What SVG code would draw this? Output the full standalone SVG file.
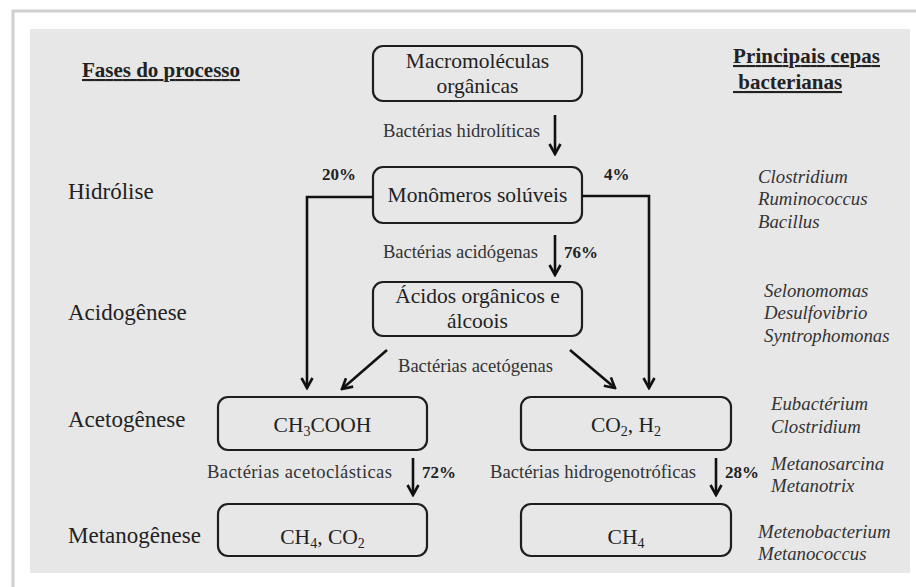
<svg xmlns="http://www.w3.org/2000/svg" width="916" height="587" viewBox="0 0 916 587">
<style>
  text{font-family:"Liberation Serif","Times New Roman",serif}
  .box{fill:#e7e7e7;stroke:#1e1e1e;stroke-width:2.2}
  .conn{fill:none;stroke:#111;stroke-width:2.6}
</style>
<defs>
  <marker id="ah" markerUnits="userSpaceOnUse" markerWidth="14" markerHeight="14" viewBox="0 0 14 14" refX="12" refY="7" orient="auto">
    <path d="M2,1.5 L12,7 L2,12.5" fill="none" stroke="#111" stroke-width="2.6"/>
  </marker>
</defs>
<rect x="0" y="0" width="916" height="587" fill="#fff"/>
<g id="frame">
  <path d="M13,587 L13,11 L916,11" fill="none" stroke="#d0d0d0" stroke-width="3"/>
  <rect x="30" y="29" width="880" height="544" fill="#e7e7e7"/>
</g>
<g id="headers" font-size="21" font-weight="bold" text-decoration="underline" fill="#222">
  <text x="82" y="77" textLength="158">Fases do processo</text>
  <text x="733" y="63" textLength="147">Principais cepas</text>
  <text x="733" y="89" xml:space="preserve"> bacterianas</text>
</g>
<g id="phases" font-size="23" fill="#222">
  <text x="68" y="199">Hidrólise</text>
  <text x="68" y="320">Acidogênese</text>
  <text x="68" y="427">Acetogênese</text>
  <text x="68" y="543">Metanogênese</text>
</g>
<g id="n-macro" font-size="21.5" text-anchor="middle" fill="#222">
  <rect class="box" x="373" y="46" width="209" height="55" rx="10"/>
  <text x="477.5" y="68">Macromoléculas</text>
  <text x="477.5" y="93">orgânicas</text>
</g>
<g id="n-monomeros" font-size="21.5" text-anchor="middle" fill="#222">
  <rect class="box" x="373" y="167" width="209" height="56" rx="10"/>
  <text x="477.5" y="202">Monômeros solúveis</text>
</g>
<g id="n-acidos" font-size="21.5" text-anchor="middle" fill="#222">
  <rect class="box" x="373" y="282" width="209" height="54" rx="10"/>
  <text x="477.5" y="303">Ácidos orgânicos e</text>
  <text x="477.5" y="328">álcoois</text>
</g>
<g id="n-acetico" font-size="21.5" text-anchor="middle" fill="#222">
  <rect class="box" x="218" y="397" width="209" height="53" rx="10"/>
  <text x="322.5" y="432">CH<tspan font-size="14" dy="4">3</tspan><tspan dy="-4">COOH</tspan></text>
</g>
<g id="n-co2h2" font-size="21.5" text-anchor="middle" fill="#222">
  <rect class="box" x="521" y="397" width="210" height="53" rx="10"/>
  <text x="626" y="432">CO<tspan font-size="14" dy="4">2</tspan><tspan dy="-4">, H</tspan><tspan font-size="14" dy="4">2</tspan></text>
</g>
<g id="n-ch4co2" font-size="21.5" text-anchor="middle" fill="#222">
  <rect class="box" x="218" y="504" width="209" height="52" rx="10"/>
  <text x="322.5" y="544">CH<tspan font-size="14" dy="4">4</tspan><tspan dy="-4">, CO</tspan><tspan font-size="14" dy="4">2</tspan></text>
</g>
<g id="n-ch4" font-size="21.5" text-anchor="middle" fill="#222">
  <rect class="box" x="521" y="504" width="210" height="52" rx="10"/>
  <text x="626" y="544">CH<tspan font-size="14" dy="4">4</tspan></text>
</g>
<g id="connectors">
  <line class="conn" x1="555" y1="115" x2="555" y2="154" marker-end="url(#ah)"/>
  <line class="conn" x1="555" y1="235" x2="555" y2="275" marker-end="url(#ah)"/>
  <path class="conn" d="M373,197 L307,197 L307,388" marker-end="url(#ah)"/>
  <path class="conn" d="M582,196 L649,196 L649,388" marker-end="url(#ah)"/>
  <line class="conn" x1="387" y1="350" x2="342" y2="389" marker-end="url(#ah)"/>
  <line class="conn" x1="570" y1="350" x2="615" y2="388" marker-end="url(#ah)"/>
  <line class="conn" x1="413" y1="458" x2="413" y2="495" marker-end="url(#ah)"/>
  <line class="conn" x1="716" y1="458" x2="716" y2="495" marker-end="url(#ah)"/>
</g>
<g id="labels" font-size="18.6" fill="#333">
  <text x="383" y="137" textLength="157">Bactérias hidrolíticas</text>
  <text x="383" y="258" textLength="155">Bactérias acidógenas</text>
  <text x="398" y="372" textLength="155">Bactérias acetógenas</text>
  <text x="207" y="478" textLength="185">Bactérias acetoclásticas</text>
  <text x="490" y="478" textLength="206">Bactérias hidrogenotróficas</text>
</g>
<g id="percents" font-size="17" font-weight="bold" fill="#222">
  <text x="322" y="180">20%</text>
  <text x="604" y="180">4%</text>
  <text x="564" y="258">76%</text>
  <text x="422" y="478">72%</text>
  <text x="725" y="478">28%</text>
</g>
<g id="species" font-size="18.8" font-style="italic" fill="#333">
  <text x="758" y="183">Clostridium</text>
  <text x="758" y="205">Ruminococcus</text>
  <text x="758" y="228">Bacillus</text>
  <text x="764" y="297">Selonomomas</text>
  <text x="764" y="319">Desulfovibrio</text>
  <text x="764" y="342">Syntrophomonas</text>
  <text x="771" y="410">Eubactérium</text>
  <text x="771" y="433">Clostridium</text>
  <text x="771" y="470">Metanosarcina</text>
  <text x="771" y="492">Metanotrix</text>
  <text x="758" y="538">Metenobacterium</text>
  <text x="758" y="560">Metanococcus</text>
</g>
</svg>
